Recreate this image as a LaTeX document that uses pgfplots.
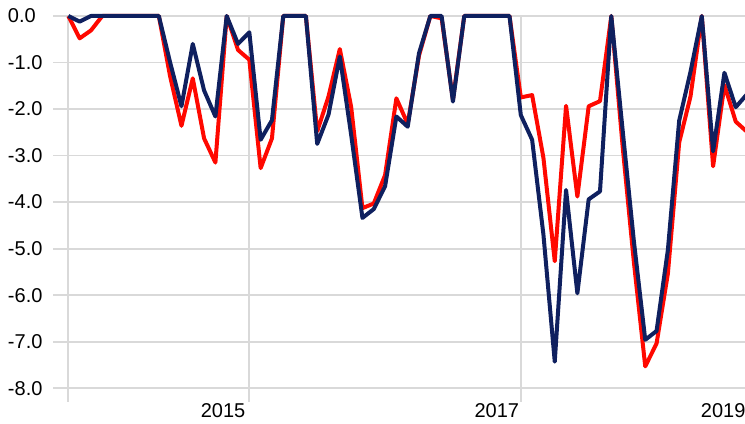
\documentclass[border=0pt]{standalone}
\usepackage{pgfplots}
\pgfplotsset{compat=1.18}
\usepackage{pgfplotstable}
\usepackage{fontspec}
\setmainfont{Liberation Sans}
\definecolor{navyline}{RGB}{15,32,95}
\definecolor{redline}{RGB}{255,8,0}
\definecolor{gridgray}{RGB}{217,217,217}

\pgfplotstableread{
i blue red
0 0 0
1 -0.12 -0.48
2 0 -0.31
3 0 0
4 0 0
5 0 0
6 0 0
7 0 0
8 0 0
9 -1.0 -1.3
10 -1.94 -2.36
11 -0.6 -1.34
12 -1.6 -2.63
13 -2.16 -3.15
14 0 0
15 -0.6 -0.73
16 -0.35 -0.94
17 -2.66 -3.27
18 -2.24 -2.63
19 0 0
20 0 0
21 0 0
22 -2.75 -2.48
23 -2.12 -1.73
24 -0.87 -0.71
25 -2.55 -1.95
26 -4.34 -4.13
27 -4.15 -4.03
28 -3.66 -3.42
29 -2.16 -1.77
30 -2.38 -2.32
31 -0.8 -0.85
32 0 0
33 0 -0.05
34 -1.84 -1.8
35 0 0
36 0 0
37 0 0
38 0 0
39 0 0
40 -2.13 -1.75
41 -2.66 -1.7
42 -4.7 -3.05
43 -7.43 -5.27
44 -3.74 -1.93
45 -5.96 -3.88
46 -3.94 -1.94
47 -3.77 -1.83
48 0 0
49 -2.45 -2.8
50 -4.85 -5.3
51 -6.96 -7.53
52 -6.77 -7.04
53 -5.03 -5.54
54 -2.25 -2.72
55 -1.2 -1.73
56 0 0
57 -2.91 -3.23
58 -1.22 -1.48
59 -1.96 -2.27
60 -1.68 -2.49
}\datatable

\begin{document}
\fontsize{20}{24}\selectfont
\begin{tikzpicture}
\begin{axis}[
  name=ax,
  scale only axis,
  width=691.7pt, height=385.7pt,
  xmin=-1.33, xmax=59.82,
  ymin=-8.29, ymax=0,
  clip=false,
  axis line style={draw=none},
  major tick length=0pt,
  xtick={0,16,40},
  xticklabels={},
  xmajorgrids,
  ytick={0,-1,-2,-3,-4,-5,-6,-7,-8},
  yticklabels={0.0,-1.0,-2.0,-3.0,-4.0,-5.0,-6.0,-7.0,-8.0},
  ymajorgrids,
  grid style={draw=gridgray, line width=1.8pt},
  extra x ticks={13.68,37.88,57.89},
  extra x tick labels={2015,2017,2019},
  extra x tick style={grid=none, major tick length=0pt},
  every x tick label/.append style={inner sep=0pt, yshift=-1.7pt, font=\fontsize{20}{24}\selectfont},
  every y tick label/.append style={inner sep=0pt, anchor=west, xshift=-45.5pt, font=\fontsize{20}{24}\selectfont},
]
\addplot[redline, line width=4pt, line join=round, mark=none] table[x=i, y=red] {\datatable};
\addplot[navyline, line width=4pt, line join=round, mark=none] table[x=i, y=blue] {\datatable};
\end{axis}
\pgfresetboundingbox
\path[use as bounding box] ([xshift=-53.3pt,yshift=-21.3pt]ax.south west) rectangle ([yshift=16pt]ax.north east);
\end{tikzpicture}
\end{document}
